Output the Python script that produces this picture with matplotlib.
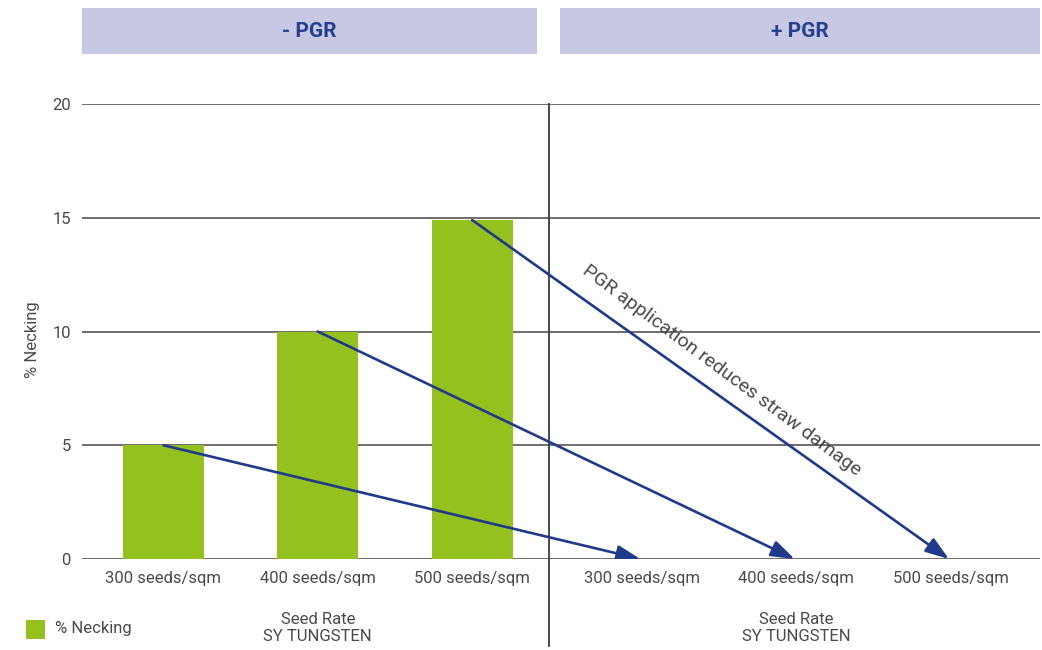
import matplotlib
matplotlib.use("Agg")
import matplotlib.pyplot as plt
from matplotlib.patches import Rectangle, FancyArrowPatch
import matplotlib.transforms as mtransforms

plt.rcParams['font.family'] = ['Roboto', 'DejaVu Sans']

# Data
categories = ["300 seeds/sqm", "400 seeds/sqm", "500 seeds/sqm"]
necking_no_pgr = [5.0, 10.0, 14.9]
necking_pgr = [0.0, 0.0, 0.0]
groups = ["- PGR", "+ PGR"]
yticks = [0, 5, 10, 15, 20]
axis_title = "Seed Rate\nSY TUNGSTEN"
ylabel = "% Necking"
legend_label = "% Necking"
note = "PGR application reduces straw damage"

# Layout / styles
pos_left = [0.0, 1.0, 2.0]
pos_right = [3.1, 4.1, 5.1]
bar_color = "#95c11f"
arrow_color = "#1f3a8a"
header_bg = "#c8c8e4"
header_fg = "#24408e"
text_color = "#4a4a4a"
grid_color = "#6e6e6e"

W, H = 1042, 650
fig = plt.figure(figsize=(W / 100, H / 100), dpi=100)
ax_l, ax_r, ax_b, ax_t = 82, 1040, 559, 104
ax = fig.add_axes([ax_l / W, (H - ax_b) / H, (ax_r - ax_l) / W, (ax_b - ax_t) / H])
ax.set_xlim(-0.528, 5.68)
ax.set_ylim(0, 20)
for s in ax.spines.values():
    s.set_visible(False)
ax.set_xticks([])
ax.set_yticks(yticks)
ax.set_yticklabels([str(t) for t in yticks], fontsize=12, color=text_color)
ax.tick_params(axis='y', length=0, pad=8)

# gridlines
for t in yticks:
    ax.axhline(t, color=grid_color, lw=1.4, zorder=1)

# bars
ax.bar(pos_left, necking_no_pgr, width=0.525, color=bar_color, zorder=2)
ax.bar(pos_right, necking_pgr, width=0.525, color=bar_color, zorder=2)

# arrows from each -PGR bar to its +PGR counterpart
for x0, y0, x1, y1 in zip(pos_left, necking_no_pgr, pos_right, necking_pgr):
    arr = FancyArrowPatch((x0, y0), (x1 - 0.01, y1), arrowstyle='-|>,head_length=11,head_width=3.8',
                          mutation_scale=1.3, color=arrow_color, lw=1.9,
                          shrinkA=0, shrinkB=0, zorder=4)
    ax.add_patch(arr)

ax.text(3.62, 8.3, note, rotation=-36.5, rotation_mode='anchor', ha='center', va='center',
        fontsize=14, color=text_color, zorder=5)

# x category labels
trans = mtransforms.blended_transform_factory(ax.transData, ax.transAxes)
for p, c in zip(pos_left + pos_right, categories + categories):
    ax.text(p, -19 / 455, c, transform=trans, ha='center', va='center',
            fontsize=12, color=text_color)
for p in [1.0, 4.1]:
    ax.text(p, -69 / 455, axis_title, transform=trans, ha='center', va='center',
            fontsize=12, color=text_color, linespacing=1.15)

# group divider
ax.plot([2.5, 2.5], [1.0, (ax_b - 646) / 455], transform=trans, color="#3a3a3a",
        lw=1.3, clip_on=False, zorder=3)

# group headers
box_top = (ax_b - 8) / 455
box_bot = (ax_b - 54) / 455
for (x0, x1), g in zip([(-0.528, 2.42), (2.57, 5.68)], groups):
    ax.add_patch(Rectangle((x0, box_bot), x1 - x0, box_top - box_bot, transform=trans,
                           facecolor=header_bg, edgecolor='none', clip_on=False))
    ax.text((x0 + x1) / 2, (box_top + box_bot) / 2, g, transform=trans, ha='center',
            va='center', fontsize=15, fontweight='bold', color=header_fg)

# y label
fig.text(33 / W, 1 - 340 / H, ylabel, rotation=90, ha='center', va='center',
         fontsize=12, color=text_color)

# legend
fig.patches.append(Rectangle((26 / W, 1 - 639 / H), 19 / W, 19 / H, transform=fig.transFigure,
                             facecolor=bar_color, edgecolor='none'))
fig.text(55 / W, 1 - 629 / H, legend_label, ha='left', va='center', fontsize=12,
         color=text_color)

fig.savefig("out.png", dpi=100)
